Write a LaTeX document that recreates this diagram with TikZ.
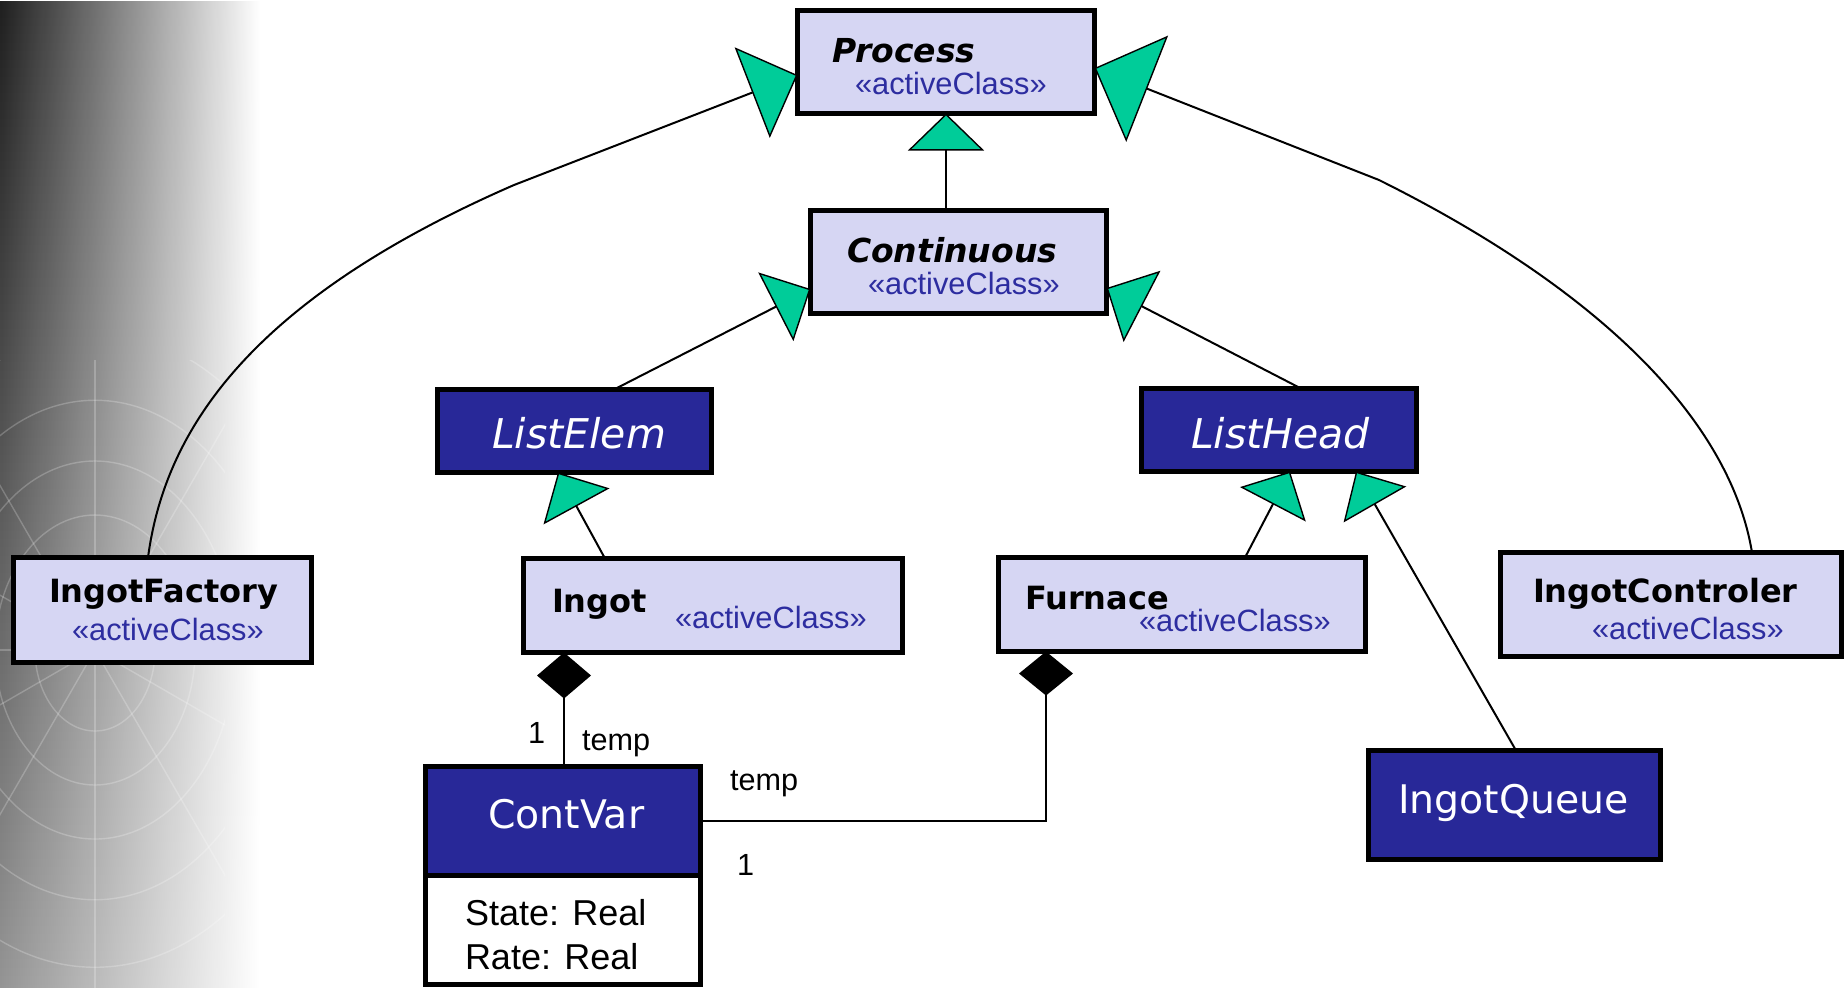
\documentclass[tikz,border=0pt]{standalone}
\usepackage{fontspec}
\setmainfont{Liberation Sans}
\newfontfamily\clsfont{DejaVu Sans}
\usetikzlibrary{arrows.meta,fit,fadings}
\definecolor{lav}{RGB}{214,214,243}
\definecolor{navy}{RGB}{40,40,152}
\definecolor{stblue}{RGB}{45,45,160}
\definecolor{tgreen}{RGB}{0,204,153}
\tikzfading[name=bgfade, left color=transparent!0, right color=transparent!100]
\begin{document}
\begin{tikzpicture}[x=0.5pt,y=-0.5pt,
  lbox/.style={draw=black, line width=2.5pt, fill=lav, inner sep=0pt, outer sep=0pt},
  dbox/.style={draw=black, line width=2.5pt, fill=navy, inner sep=0pt, outer sep=0pt},
  wbox/.style={draw=black, line width=2.5pt, fill=white, inner sep=0pt, outer sep=0pt},
  txt/.style={anchor=base west, inner sep=0pt, outer sep=0pt},
  clsbi/.style={txt, font=\clsfont\bfseries\itshape\fontsize{16.5}{19}\selectfont},
  clsb/.style={txt, font=\clsfont\bfseries\fontsize{16}{19}\selectfont},
  clsw/.style={txt, text=white, font=\clsfont\fontsize{19.7}{24}\selectfont},
  clswi/.style={txt, text=white, font=\clsfont\itshape\fontsize{20.5}{24}\selectfont},
  stereo/.style={txt, text=stblue, font=\fontsize{15.4}{18}\selectfont},
  attr/.style={txt, font=\fontsize{18}{21}\selectfont},
  lbl/.style={txt, font=\fontsize{15.3}{18}\selectfont},
  conn/.style={draw=black, line width=1pt},
  gen/.style args={#1/#2}{conn, -{Triangle[length=#1, width=#2, fill=tgreen, line width=0.7pt]}},
  comp/.style args={#1/#2}{conn, -{Diamond[length=#1, width=#2, fill=black]}},
  mesh/.style={draw=white, opacity=0.22, line width=0.7pt}
]
\useasboundingbox (0,0) rectangle (1845,987);
% background decoration
\shade[top color=black!88, bottom color=black!42, path fading=bgfade] (0,0) rectangle (260,987);
\begin{scope}
  \clip (0,360) rectangle (225,987);
  \foreach \r in {60,100,140,185,235,290}
    \draw[mesh] (95,650) ellipse ({\r} and {1.35*\r});
  \foreach \a in {0,30,...,330}
    \draw[mesh] (95,650) -- ++(\a:420);
\end{scope}

% class boxes
\node[lbox, fit={(797.5,10.5) (1094.5,113.5)}] (Process) {};
\node[lbox, fit={(810.5,210.5) (1106.5,313.5)}] (Continuous) {};
\node[dbox, fit={(437.5,389.5) (711.5,472.5)}] (ListElem) {};
\node[dbox, fit={(1141.5,388.5) (1416.5,471.5)}] (ListHead) {};
\node[lbox, fit={(523.5,558.5) (902.5,652.5)}] (Ingot) {};
\node[lbox, fit={(998.5,557.5) (1365.5,651.5)}] (Furnace) {};
\node[lbox, fit={(13.5,557.5) (311.5,662.5)}] (IngotFactory) {};
\node[lbox, fit={(1500.5,552.5) (1841.5,656.5)}] (IngotControler) {};
\node[dbox, fit={(1368.5,750.5) (1660.5,859.5)}] (IngotQueue) {};
\node[wbox, fit={(425.5,875) (700.5,984.5)}] (CVbody) {};
\node[dbox, fit={(425.5,766.5) (700.5,875)}] (CVhead) {};

% texts
\node[clsbi] (tProcess) at (832,62) {Process};
\node[stereo] (sProcess) at (855,94) {«activeClass»};
\node[clsbi] (tContinuous) at (847,262) {Continuous};
\node[stereo] (sContinuous) at (868,294) {«activeClass»};
\node[clswi] (tListElem) at (492,448) {ListElem};
\node[clswi] (tListHead) at (1191,448) {ListHead};
\node[clsb] (tIngot) at (552,612) {Ingot};
\node[stereo] (sIngot) at (675,628) {«activeClass»};
\node[clsb] (tFurnace) at (1025,609) {Furnace};
\node[stereo] (sFurnace) at (1139,631) {«activeClass»};
\node[clsb] (tIngotFactory) at (49,602) {IngotFactory};
\node[stereo] (sIngotFactory) at (72,640) {«activeClass»};
\node[clsb] (tIngotControler) at (1533,602) {IngotControler};
\node[stereo] (sIngotControler) at (1592,639) {«activeClass»};
\node[clsw] (tIngotQueue) at (1398,813) {IngotQueue};
\node[clsw] (tContVar) at (488,828) {ContVar};
\node[attr] (aState) at (465,925) {State: Real};
\node[attr] (aRate) at (465,969) {Rate: Real};
\node[lbl] (m1) at (528,743) {1};
\node[lbl] (r1) at (582,750) {temp};
\node[lbl] (r2) at (730,790) {temp};
\node[lbl] (m2) at (737,875) {1};

% generalisations
\draw[gen=18.5pt/38pt] (Continuous.north -| Process.south) -- (Process.south);
\draw[gen=24.3pt/48.5pt] (148,0 |- IngotFactory.north) .. controls (165,430) and (250,300) .. (514,185) -- (Process.west |- 0,75);
\draw[gen=28.3pt/57pt] (1752,0 |- IngotControler.north) .. controls (1730,420) and (1600,290) .. (1379,180) -- (Process.east |- 0,68);
\draw[gen=19.5pt/38.5pt] (614,0 |- ListElem.north) -- (Continuous.west |- 0,289);
\draw[gen=20pt/40pt] (1301,0 |- ListHead.north) -- (Continuous.east |- 0,288);
\draw[gen=19.3pt/37.5pt] (605,0 |- Ingot.north) -- (558,0 |- ListElem.south);
\draw[gen=18.5pt/37pt] (1245,0 |- Furnace.north) -- (1290,0 |- ListHead.south);
\draw[gen=19pt/36pt] (1516,0 |- IngotQueue.north) -- (1356,0 |- ListHead.south);
% compositions
\draw[comp=23pt/27pt] (564,0 |- CVhead.north) -- (564,0 |- Ingot.south);
\draw[comp=22pt/27pt] (CVhead.east |- 0,821) -- (1046,821) -- (1046,0 |- Furnace.south);
\end{tikzpicture}
\end{document}
